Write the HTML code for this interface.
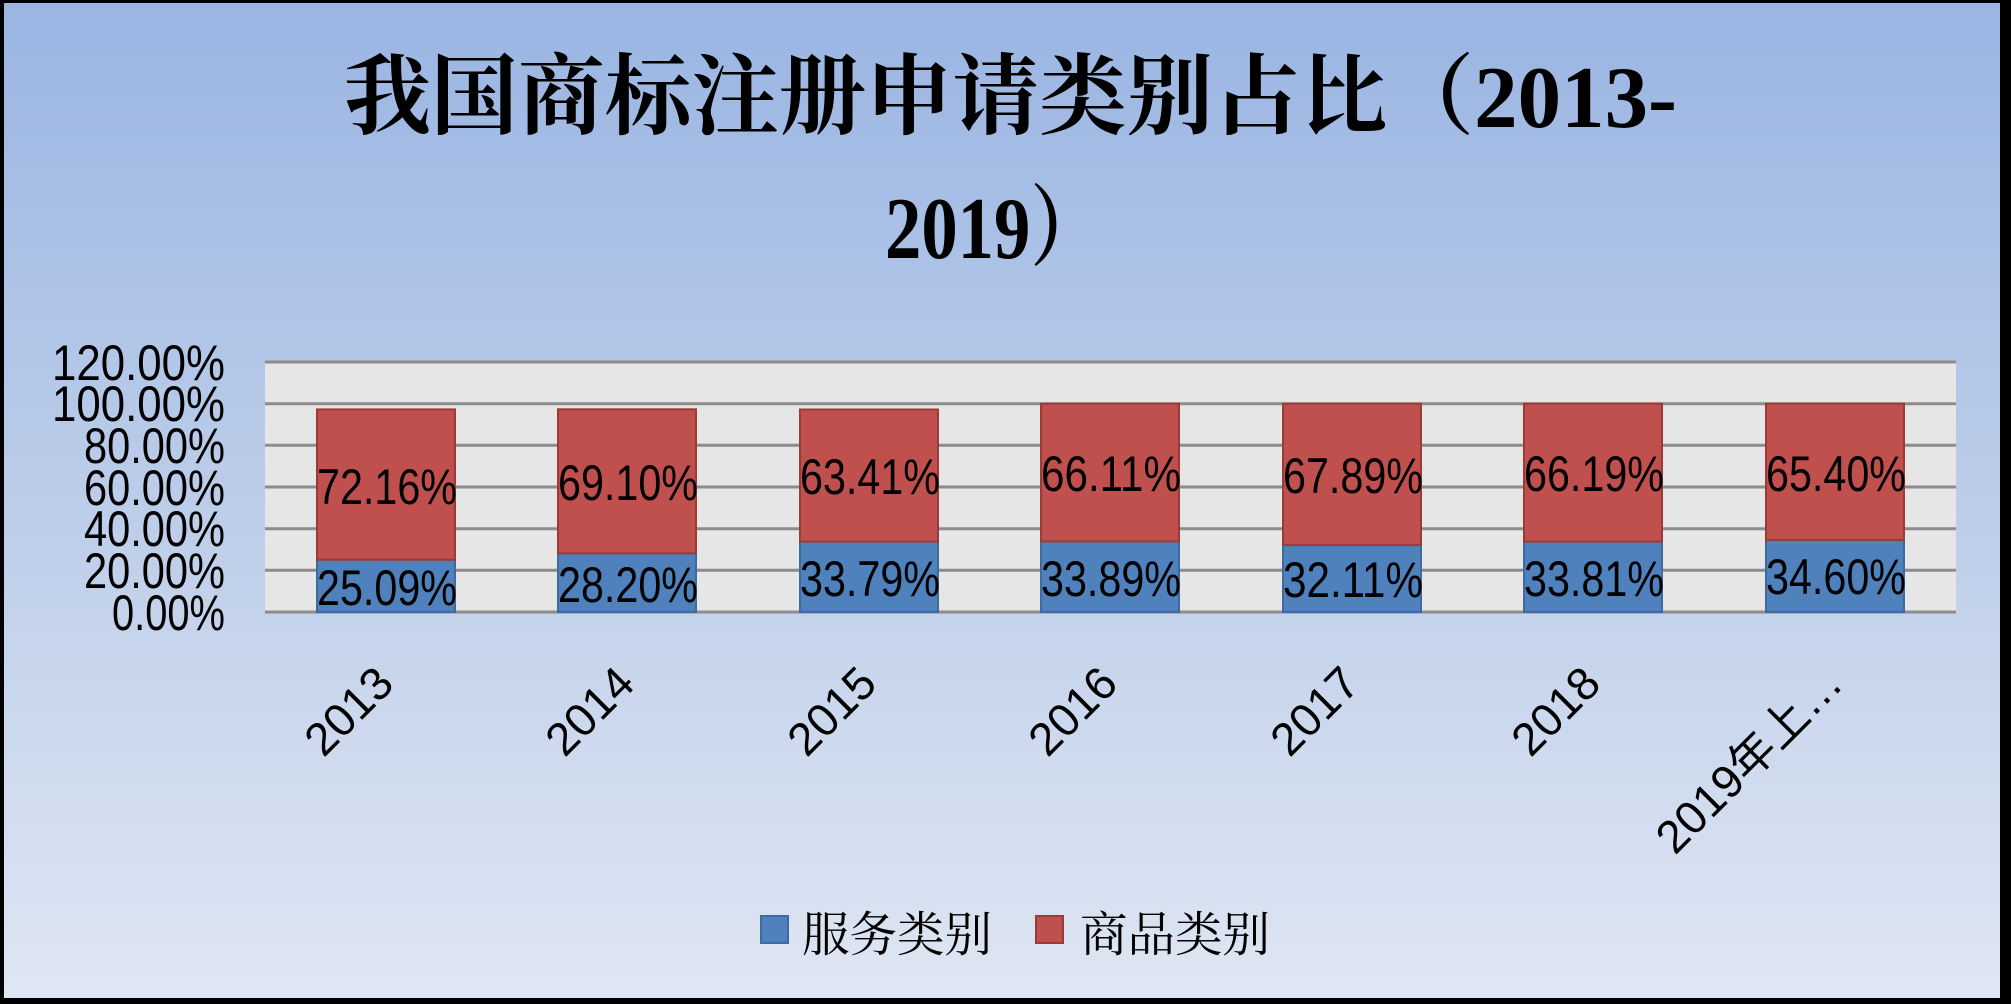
<!DOCTYPE html>
<html><head><meta charset="utf-8"><style>
html,body{margin:0;padding:0;width:2011px;height:1004px;overflow:hidden;background:#fff}
</style></head><body>
<svg width="2011" height="1004" xmlns="http://www.w3.org/2000/svg">
<defs>
<linearGradient id="bg" x1="0" y1="0" x2="0" y2="1">
<stop offset="0" stop-color="#9ab5e3"/>
<stop offset="0.5" stop-color="#bccde9"/>
<stop offset="1" stop-color="#dfe6f3"/>
</linearGradient>
</defs>
<rect x="0" y="0" width="2011" height="1004" fill="#000"/>
<rect x="4" y="3" width="1996" height="995" fill="url(#bg)"/>
<g font-family="'Liberation Serif','Noto Serif CJK SC',serif" font-weight="bold" font-size="88" fill="#000">
<text x="344" y="127" textLength="1333" lengthAdjust="spacingAndGlyphs">我国商标注册申请类别占比（2013-</text>
<text x="885" y="258" textLength="218" lengthAdjust="spacingAndGlyphs">2019）</text>
</g>
<rect x="265" y="362" width="1691" height="250" fill="#e6e6e6"/>
<g stroke="#8c8c8c" stroke-width="3">
<line x1="265" y1="362" x2="1956" y2="362"/>
<line x1="265" y1="403.7" x2="1956" y2="403.7"/>
<line x1="265" y1="445.3" x2="1956" y2="445.3"/>
<line x1="265" y1="487" x2="1956" y2="487"/>
<line x1="265" y1="528.7" x2="1956" y2="528.7"/>
<line x1="265" y1="570.3" x2="1956" y2="570.3"/>
<line x1="265" y1="612" x2="1956" y2="612"/>
</g>
<g font-family="'Liberation Sans',sans-serif" font-size="50" fill="#000" lengthAdjust="spacingAndGlyphs">
<text x="52" y="380" textLength="173" lengthAdjust="spacingAndGlyphs">120.00%</text>
<text x="52" y="421" textLength="173" lengthAdjust="spacingAndGlyphs">100.00%</text>
<text x="84" y="463" textLength="141" lengthAdjust="spacingAndGlyphs">80.00%</text>
<text x="84" y="505" textLength="141" lengthAdjust="spacingAndGlyphs">60.00%</text>
<text x="84" y="546" textLength="141" lengthAdjust="spacingAndGlyphs">40.00%</text>
<text x="84" y="588" textLength="141" lengthAdjust="spacingAndGlyphs">20.00%</text>
<text x="112" y="630" textLength="113" lengthAdjust="spacingAndGlyphs">0.00%</text>
</g>
<g stroke-width="2">
<rect x="317" y="559.7" width="138" height="52.3" fill="#4f81bd" stroke="#3f6a9e"/>
<rect x="317" y="409.4" width="138" height="150.3" fill="#c0504d" stroke="#9c3a38"/>
<rect x="558" y="553.3" width="138" height="58.7" fill="#4f81bd" stroke="#3f6a9e"/>
<rect x="558" y="409.3" width="138" height="144" fill="#c0504d" stroke="#9c3a38"/>
<rect x="800" y="541.6" width="138" height="70.4" fill="#4f81bd" stroke="#3f6a9e"/>
<rect x="800" y="409.5" width="138" height="132.1" fill="#c0504d" stroke="#9c3a38"/>
<rect x="1041" y="541.4" width="138" height="70.6" fill="#4f81bd" stroke="#3f6a9e"/>
<rect x="1041" y="403.7" width="138" height="137.7" fill="#c0504d" stroke="#9c3a38"/>
<rect x="1283" y="545.1" width="138" height="66.9" fill="#4f81bd" stroke="#3f6a9e"/>
<rect x="1283" y="403.7" width="138" height="141.4" fill="#c0504d" stroke="#9c3a38"/>
<rect x="1524" y="541.6" width="138" height="70.4" fill="#4f81bd" stroke="#3f6a9e"/>
<rect x="1524" y="403.7" width="138" height="137.9" fill="#c0504d" stroke="#9c3a38"/>
<rect x="1766" y="539.9" width="138" height="72.1" fill="#4f81bd" stroke="#3f6a9e"/>
<rect x="1766" y="403.7" width="138" height="136.2" fill="#c0504d" stroke="#9c3a38"/>
</g>
<g font-family="'Liberation Sans',sans-serif" font-size="50" fill="#000" text-anchor="middle">
<text x="387" y="504" textLength="140" lengthAdjust="spacingAndGlyphs">72.16%</text><text x="387" y="605" textLength="140" lengthAdjust="spacingAndGlyphs">25.09%</text>
<text x="628" y="500" textLength="140" lengthAdjust="spacingAndGlyphs">69.10%</text><text x="628" y="602" textLength="140" lengthAdjust="spacingAndGlyphs">28.20%</text>
<text x="870" y="494" textLength="140" lengthAdjust="spacingAndGlyphs">63.41%</text><text x="870" y="596" textLength="140" lengthAdjust="spacingAndGlyphs">33.79%</text>
<text x="1111" y="491" textLength="140" lengthAdjust="spacingAndGlyphs">66.11%</text><text x="1111" y="596" textLength="140" lengthAdjust="spacingAndGlyphs">33.89%</text>
<text x="1353" y="493" textLength="140" lengthAdjust="spacingAndGlyphs">67.89%</text><text x="1353" y="597" textLength="140" lengthAdjust="spacingAndGlyphs">32.11%</text>
<text x="1594" y="491" textLength="140" lengthAdjust="spacingAndGlyphs">66.19%</text><text x="1594" y="596" textLength="140" lengthAdjust="spacingAndGlyphs">33.81%</text>
<text x="1836" y="491" textLength="140" lengthAdjust="spacingAndGlyphs">65.40%</text><text x="1836" y="594" textLength="140" lengthAdjust="spacingAndGlyphs">34.60%</text>
</g>
<g font-family="'Liberation Sans','Noto Sans CJK SC',sans-serif" font-size="46" fill="#000" text-anchor="end">
<text transform="translate(396,686) rotate(-45)">2013</text>
<text transform="translate(637,686) rotate(-45)">2014</text>
<text transform="translate(879,686) rotate(-45)">2015</text>
<text transform="translate(1120,686) rotate(-45)">2016</text>
<text transform="translate(1362,686) rotate(-45)">2017</text>
<text transform="translate(1603,686) rotate(-45)">2018</text>
<text transform="translate(1845,686) rotate(-45)">2019年上…</text>
</g>
<rect x="761" y="916" width="27" height="27" fill="#4f81bd" stroke="#3f6a9e" stroke-width="2"/>
<rect x="1036" y="916" width="27" height="27" fill="#c0504d" stroke="#9c3a38" stroke-width="2"/>
<g font-family="'Noto Serif CJK SC','WenQuanYi Zen Hei',serif" font-size="48" fill="#000">
<text x="802" y="951" textLength="190" lengthAdjust="spacingAndGlyphs">服务类别</text>
<text x="1080" y="951" textLength="190" lengthAdjust="spacingAndGlyphs">商品类别</text>
</g>
</svg>
</body></html>
